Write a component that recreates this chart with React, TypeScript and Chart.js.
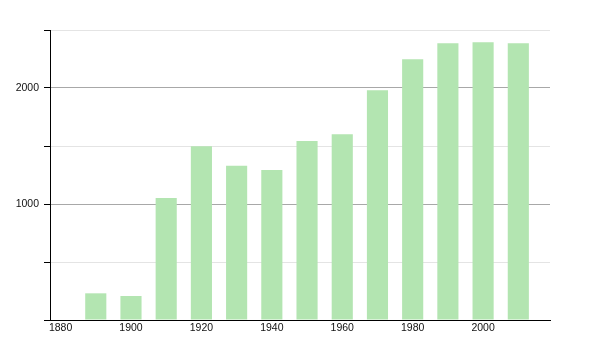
import React, { useEffect, useRef } from "react";
import { Chart, registerables } from "chart.js";

Chart.register(...registerables);

const years = [1890, 1900, 1910, 1920, 1930, 1940, 1950, 1960, 1970, 1980, 1990, 2000, 2010];
const population = [230, 207, 1052, 1497, 1330, 1293, 1543, 1601, 1980, 2247, 2385, 2394, 2385];
const xTickValues = [1880, 1900, 1920, 1940, 1960, 1980, 2000];
const yTickValues = [0, 500, 1000, 1500, 2000, 2500];
const yLabelValues = [1000, 2000];

export default function App() {
  const ref = useRef<HTMLCanvasElement | null>(null);

  useEffect(() => {
    if (!ref.current) return;
    const chart = new Chart(ref.current, {
      type: "bar",
      data: {
        datasets: [
          {
            data: years.map((y, i) => ({ x: y, y: population[i] })),
            backgroundColor: "rgb(179,229,177)",
            borderWidth: 0,
            barPercentage: 0.6,
            categoryPercentage: 1,
          },
        ],
      },
      options: {
        responsive: false,
        animation: false,
        layout: { padding: { left: 0, right: 50, top: 30, bottom: 0 } },
        plugins: { legend: { display: false }, tooltip: { enabled: false } },
        scales: {
          x: {
            type: "linear",
            min: 1877,
            max: 2019,
            offset: false,
            grid: { display: false, drawTicks: false, tickLength: 0 },
            border: { display: true, color: "#000", width: 1 },
            afterBuildTicks: (scale: any) => {
              scale.ticks = xTickValues.map((v) => ({ value: v }));
            },
            afterFit: (scale: any) => {
              scale.height = 30;
            },
            ticks: {
              padding: 2,
              maxRotation: 0,
              autoSkip: false,
              color: "#111",
              font: { family: "'Liberation Sans', Arial, sans-serif", size: 10.5 },
              callback: (v: any) => String(v),
            },
          },
          y: {
            type: "linear",
            min: 0,
            max: 2500,
            afterBuildTicks: (scale: any) => {
              scale.ticks = yTickValues.map((v) => ({ value: v }));
            },
            afterFit: (scale: any) => {
              scale.width = 50;
            },
            border: { display: true, color: "#000", width: 1 },
            grid: {
              color: (ctx: any) => {
                const v = ctx.tick ? ctx.tick.value : 0;
                if (v === 0) return "rgba(0,0,0,0)";
                return v % 1000 === 0 ? "#a8a8a8" : "#e4e4e4";
              },
              tickColor: "#000",
              tickLength: 6,
              lineWidth: 1,
            },
            ticks: {
              padding: 5,
              color: "#111",
              font: { family: "'Liberation Sans', Arial, sans-serif", size: 10.5 },
              callback: (v: any) => (yLabelValues.includes(Number(v)) ? String(v) : ""),
            },
          },
        },
      },
    });
    return () => chart.destroy();
  }, []);

  return (
    <div style={{ position: "fixed", left: 0, top: 0, width: 600, height: 350, background: "#fff" }}>
      <canvas ref={ref} width={600} height={350} />
    </div>
  );
}
